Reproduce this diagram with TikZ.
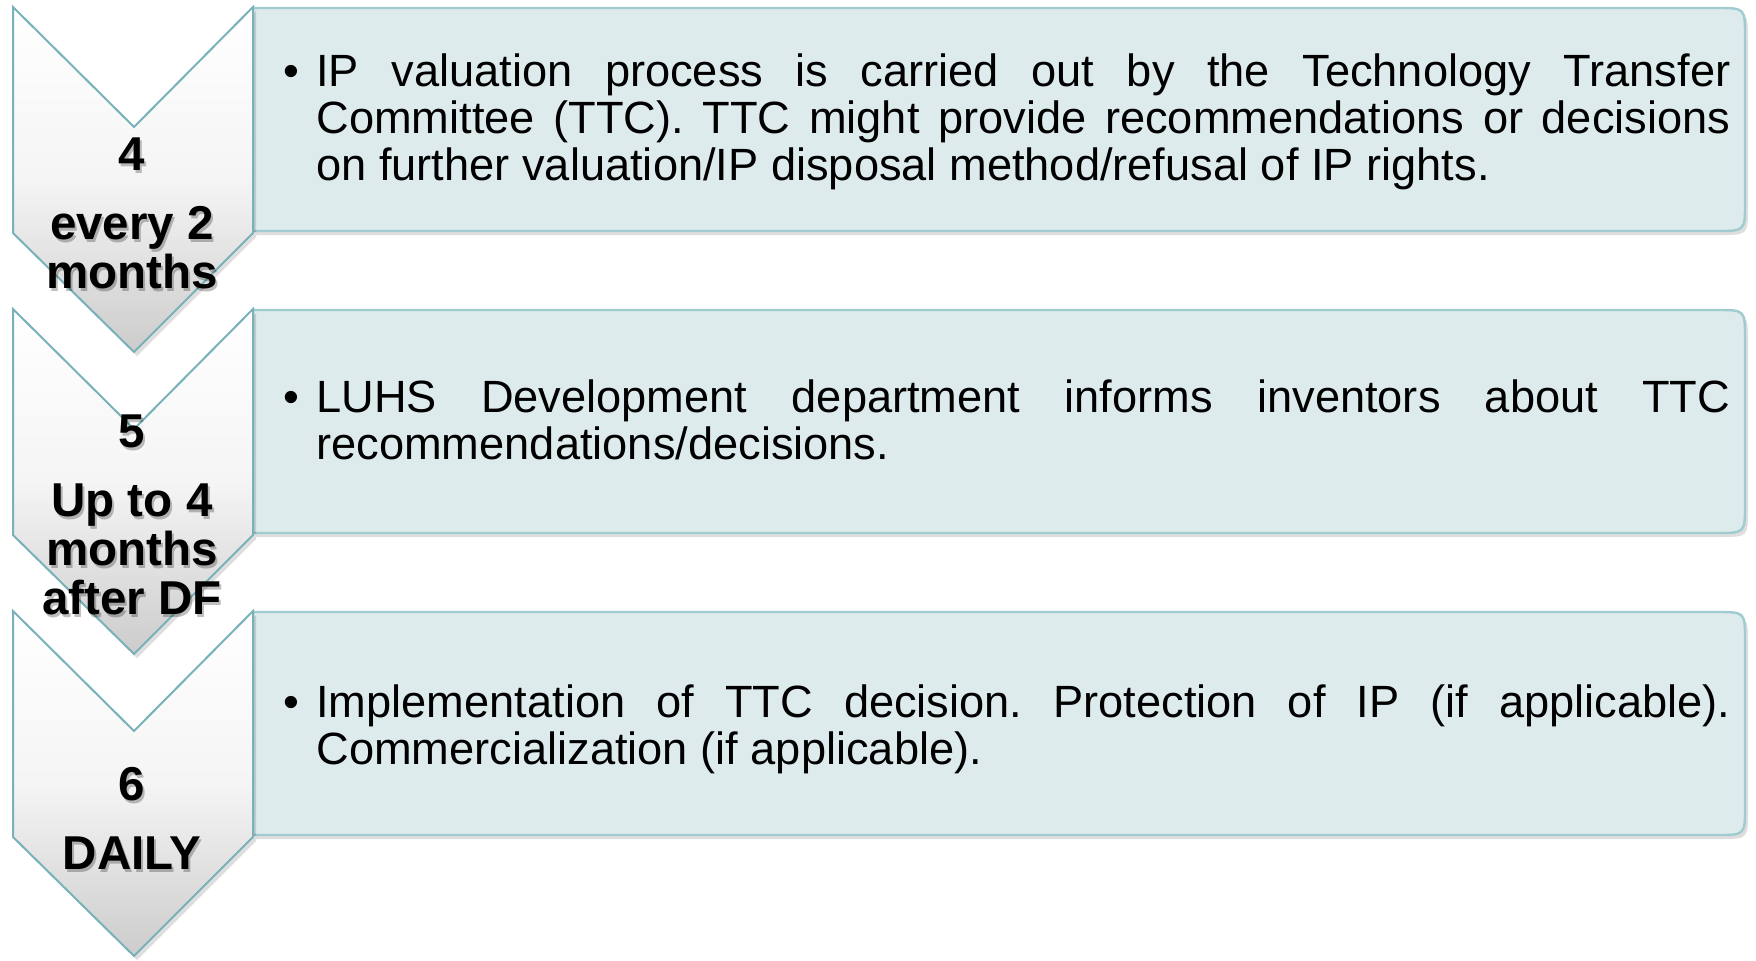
\documentclass[tikz,border=0pt]{standalone}
\usepackage{fontspec}
\setmainfont{Liberation Sans}
\definecolor{boxfill}{RGB}{222,235,236}
\definecolor{boxline}{RGB}{160,203,207}
\definecolor{chevline}{RGB}{120,178,184}
\begin{document}
\begin{tikzpicture}[x=0.5pt,y=-0.5pt]
\tikzset{
  boxshape/.style={fill=boxfill, draw=boxline, line width=1.2pt},
  chevshape/.style={top color=white, bottom color=black!20, middle color=white!96!black, draw=chevline, line width=1pt},
  shadowshape/.style={fill=black, opacity=0.13},
  bodytext/.style={anchor=west, text width=723.5pt, align=justify, inner sep=0pt,
    font=\fontsize{22.6pt}{23.5pt}\selectfont},
  chevtext/.style={align=center, inner sep=0pt,
    font=\bfseries\fontsize{23.75pt}{24.5pt}\selectfont},
  chevglow/.style={chevtext, text=black, opacity=0.25}
}
\useasboundingbox (0,0) rectangle (1756,960);
\foreach \dy in {0,302,604}{
  % box shadow
  \fill[shadowshape] (256,12+\dy) -- (1720,12+\dy) .. controls (1748,12+\dy) .. (1748,40+\dy)
    -- (1748,207+\dy) .. controls (1748,235+\dy) .. (1720,235+\dy) -- (256,235+\dy) -- cycle;
  % box
  \draw[boxshape] (253,8+\dy) -- (1717,8+\dy) .. controls (1745,8+\dy) .. (1745,36+\dy)
    -- (1745,203+\dy) .. controls (1745,231+\dy) .. (1717,231+\dy) -- (253,231+\dy) -- cycle;
  % chevron shadow
  \fill[shadowshape] (16,11+\dy) -- (137,131+\dy) -- (256,11+\dy) -- (256,237+\dy)
    -- (137,356+\dy) -- (16,237+\dy) -- cycle;
  % chevron
  \draw[chevshape] (13,7+\dy) -- (134,127+\dy) -- (253,7+\dy) -- (253,233+\dy)
    -- (134,352+\dy) -- (13,233+\dy) -- cycle;
}
\tolerance=10000
\hyphenpenalty=10000
\frenchspacing
\node[bodytext] (t1) at (283,122) {\hangindent=16.5pt\hangafter=1\makebox[16.5pt][l]{\textbullet}IP valuation process is carried out by the Technology Transfer\linebreak Committee (TTC). TTC might provide recommendations or decisions\linebreak on further valuation/IP disposal method/refusal of IP rights.\par};
\node[bodytext] (t2) at (283,419.5) {\hangindent=16.5pt\hangafter=1\makebox[16.5pt][l]{\textbullet}LUHS Development department informs inventors about TTC\linebreak recommendations/decisions.\par};
\node[bodytext] (t3) at (283,729) {\hangindent=16.5pt\hangafter=1\makebox[16.5pt][l]{\textbullet}Implementation of TTC decision. Protection of IP (if applicable).\linebreak Commercialization (if applicable).\par};
\node[chevglow] (g1) at (134,216) {4\\[10pt]every 2\\months};
\node[chevglow] (g2) at (134,518) {5\\[10pt]Up to 4\\months\\after DF};
\node[chevglow] (g3) at (134,821.5) {6\\[10pt]DAILY};
\node[chevtext] (c1) at (132,213) {4\\[10pt]every 2\\months};
\node[chevtext] (c2) at (132,515) {5\\[10pt]Up to 4\\months\\after DF};
\node[chevtext] (c3) at (132,818.5) {6\\[10pt]DAILY};
\end{tikzpicture}
\end{document}
